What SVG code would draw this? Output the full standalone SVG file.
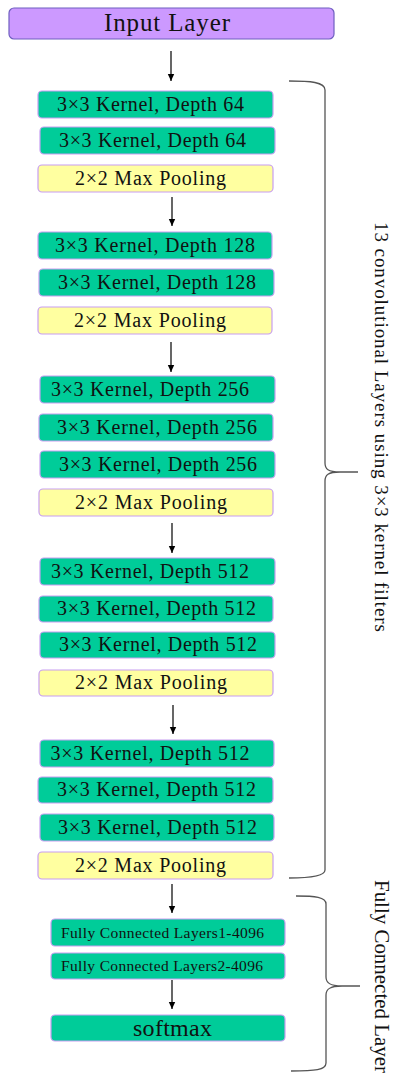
<svg xmlns="http://www.w3.org/2000/svg" width="393" height="1077" viewBox="0 0 393 1077">
<style>
.conv{fill:#00cc99;stroke:#c79ef2;stroke-width:1.2}
.pool{fill:#ffffa0;stroke:#c79ef2;stroke-width:1.2}
.inp{fill:#cc99ff;stroke:#6f5fc0;stroke-width:1.2}
.t{font-family:"Liberation Serif","Times New Roman",serif;fill:#111;text-anchor:middle;font-size:20px}
.fc{font-size:15.5px}
.side{font-family:"Liberation Serif","Times New Roman",serif;fill:#111;text-anchor:start}
.arr{stroke:#000;stroke-width:1.2;fill:none;marker-end:url(#ah)}
.brace{stroke:#555;stroke-width:1.3;fill:none}
</style>
<defs>
<marker id="ah" markerWidth="8" markerHeight="8" refX="7" refY="4" orient="auto" markerUnits="userSpaceOnUse">
<path d="M0,0.8 L7,4 L0,7.2 Z" fill="#000"/>
</marker>
</defs>
<rect width="393" height="1077" fill="#fff"/>
<g id="input"><rect class="inp" x="9" y="8" width="325" height="31" rx="5"/><text class="t" x="167" y="31" style="font-size:25px" textLength="126">Input Layer</text></g>
<g id="n1"><rect class="conv" x="38" y="91" width="235" height="27" rx="4"/><text class="t" x="150.5" y="111" textLength="187">3×3 Kernel, Depth 64</text></g>
<g id="n2"><rect class="conv" x="40" y="127" width="235" height="27" rx="4"/><text class="t" x="152.5" y="147" textLength="187">3×3 Kernel, Depth 64</text></g>
<g id="n3"><rect class="pool" x="38" y="165" width="235" height="27" rx="4"/><text class="t" x="150.5" y="185" textLength="151">2×2 Max Pooling</text></g>
<g id="n4"><rect class="conv" x="38" y="232" width="234" height="27" rx="4"/><text class="t" x="155" y="252" textLength="200">3×3 Kernel, Depth 128</text></g>
<g id="n5"><rect class="conv" x="39" y="269" width="235" height="27" rx="4"/><text class="t" x="157" y="289" textLength="198">3×3 Kernel, Depth 128</text></g>
<g id="n6"><rect class="pool" x="38" y="307" width="234" height="27" rx="4"/><text class="t" x="150" y="327" textLength="152">2×2 Max Pooling</text></g>
<g id="n7"><rect class="conv" x="40" y="376" width="235" height="27" rx="4"/><text class="t" x="150" y="396" textLength="198">3×3 Kernel, Depth 256</text></g>
<g id="n8"><rect class="conv" x="39" y="414" width="234" height="27" rx="4"/><text class="t" x="157" y="434" textLength="200">3×3 Kernel, Depth 256</text></g>
<g id="n9"><rect class="conv" x="40" y="451" width="235" height="27" rx="4"/><text class="t" x="158" y="471" textLength="198">3×3 Kernel, Depth 256</text></g>
<g id="n10"><rect class="pool" x="39" y="489" width="234" height="27" rx="4"/><text class="t" x="151" y="509" textLength="152">2×2 Max Pooling</text></g>
<g id="n11"><rect class="conv" x="40" y="558" width="235" height="27" rx="4"/><text class="t" x="150" y="578" textLength="198">3×3 Kernel, Depth 512</text></g>
<g id="n12"><rect class="conv" x="39" y="596" width="234" height="26" rx="4"/><text class="t" x="156.5" y="615" textLength="199">3×3 Kernel, Depth 512</text></g>
<g id="n13"><rect class="conv" x="40" y="632" width="235" height="26" rx="4"/><text class="t" x="158" y="651" textLength="198">3×3 Kernel, Depth 512</text></g>
<g id="n14"><rect class="pool" x="39" y="670" width="234" height="26" rx="4"/><text class="t" x="151" y="689" textLength="152">2×2 Max Pooling</text></g>
<g id="n15"><rect class="conv" x="40" y="740" width="234" height="27" rx="4"/><text class="t" x="150" y="760" textLength="199">3×3 Kernel, Depth 512</text></g>
<g id="n16"><rect class="conv" x="38" y="777" width="235" height="26" rx="4"/><text class="t" x="156.5" y="796" textLength="199">3×3 Kernel, Depth 512</text></g>
<g id="n17"><rect class="conv" x="40" y="814" width="234" height="27" rx="4"/><text class="t" x="157.5" y="834" textLength="199">3×3 Kernel, Depth 512</text></g>
<g id="n18"><rect class="pool" x="38" y="852" width="235" height="27" rx="4"/><text class="t" x="150.5" y="872" textLength="151">2×2 Max Pooling</text></g>
<g id="fc1"><rect class="conv" x="51" y="919" width="234" height="27" rx="4"/><text class="t fc" x="162.5" y="938" textLength="203">Fully Connected Layers1-4096</text></g>
<g id="fc2"><rect class="conv" x="51" y="953" width="234" height="26" rx="4"/><text class="t fc" x="162" y="971" textLength="202">Fully Connected Layers2-4096</text></g>
<g id="softmax"><rect class="conv" x="51" y="1015" width="234" height="26" rx="4"/><text class="t" x="172.5" y="1036" style="font-size:24px" textLength="79">softmax</text></g>
<g id="connectors">
<line class="arr" x1="171" y1="51" x2="171" y2="81"/>
<line class="arr" x1="172" y1="197" x2="172" y2="226"/>
<line class="arr" x1="171" y1="342" x2="171" y2="372"/>
<line class="arr" x1="172" y1="523" x2="172" y2="553"/>
<line class="arr" x1="173" y1="705" x2="173" y2="734"/>
<line class="arr" x1="172" y1="884" x2="172" y2="913"/>
<line class="arr" x1="172" y1="980" x2="172" y2="1009"/>
</g>
<g id="brace-conv">
<path class="brace" d="M289,81 C310,81 325,82 325,90 L325,463 C325,469 328,472 340,472 L358,472 M340,472 C328,472 325,475 325,481 L325,870 C325,876 310,878 289,878"/>
<text class="side" transform="translate(375,222) rotate(90)" style="font-size:19px" textLength="410">13 convolutional Layers using 3×3 kernel filters</text>
</g>
<g id="brace-fc">
<path class="brace" d="M296,896 C315,896 326,897 326,904 L326,977 C326,983 330,986 342,986 L360,986 M342,986 C330,986 326,989 326,995 L326,1063 C326,1070 315,1071 291,1071"/>
<text class="side" transform="translate(375,880) rotate(90)" style="font-size:21px" textLength="193" lengthAdjust="spacingAndGlyphs">Fully Connected Layer</text>
</g>
</svg>
